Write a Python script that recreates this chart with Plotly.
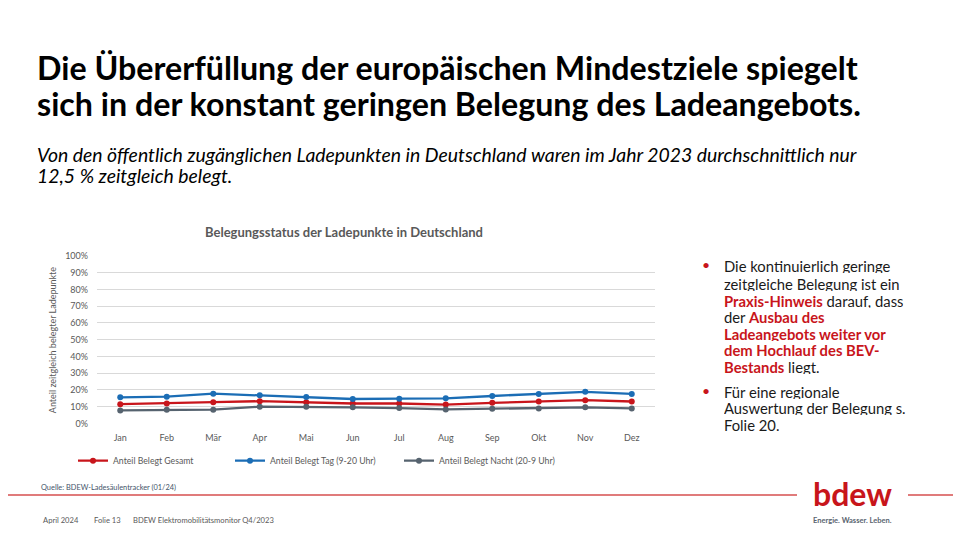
import plotly.graph_objects as go

W, H = 961, 541
OFFX, OFFY = 8, 3  # page offset of the figure
FW, FH = W - OFFX, H - OFFY

months = ["Jan", "Feb", "Mär", "Apr", "Mai", "Jun", "Jul", "Aug", "Sep", "Okt", "Nov", "Dez"]
gesamt = [0.115, 0.119, 0.127, 0.133, 0.127, 0.119, 0.119, 0.113, 0.123, 0.131, 0.139, 0.131]
tag = [0.156, 0.160, 0.178, 0.168, 0.158, 0.146, 0.148, 0.150, 0.164, 0.176, 0.189, 0.176]
nacht = [0.078, 0.082, 0.082, 0.100, 0.100, 0.096, 0.092, 0.084, 0.088, 0.090, 0.096, 0.090]
y_ticks = [0, 0.1, 0.2, 0.3, 0.4, 0.5, 0.6, 0.7, 0.8, 0.9, 1.0]

RED = "#C8151B"
BLUE = "#1B6DB5"
GRAY = "#56636F"
FONT = "Lato"


def px(x):
    return (x - OFFX) / FW


def py(y):
    return 1 - (y - OFFY) / FH


fig = go.Figure()
series = [("Anteil Belegt Gesamt", gesamt, RED, "legend"),
          ("Anteil Belegt Tag (9-20 Uhr)", tag, BLUE, "legend2"),
          ("Anteil Belegt Nacht (20-9 Uhr)", nacht, GRAY, "legend3")]
for name, vals, col, lg in series:
    fig.add_trace(go.Scatter(x=months, y=vals, name=name, mode="lines+markers",
                             line=dict(color=col, width=2.3),
                             marker=dict(color=col, size=6), legend=lg))

legend_common = dict(orientation="h", xanchor="left", yanchor="middle",
                     font=dict(family=FONT, size=8.7, color="#595959"),
                     bgcolor="rgba(0,0,0,0)", itemwidth=30)

fig.update_layout(
    width=FW, height=FH,
    margin=dict(l=0, r=0, t=0, b=0),
    paper_bgcolor="white", plot_bgcolor="white",
    showlegend=True,
    legend=dict(x=px(73), y=py(459), **legend_common),
    legend2=dict(x=px(230), y=py(459), **legend_common),
    legend3=dict(x=px(399), y=py(459), **legend_common),
    xaxis=dict(domain=[px(97), px(655)], type="category", range=[-0.5, 11.5],
               showgrid=False, showline=False, zeroline=False, ticks="",
               tickfont=dict(family=FONT, size=9, color="#595959"),
               ticklabelstandoff=8),
    yaxis=dict(domain=[py(421), py(250)], range=[0, 1.0], tickvals=y_ticks,
               tickformat=".0%", showgrid=True, gridcolor="#D9D9D9", gridwidth=1,
               zeroline=False, showline=False, ticks="",
               tickfont=dict(family=FONT, size=9, color="#595959"),
               ticklabelstandoff=8),
)

ann = []


def text(x, y, s, size, color="#000000", xanchor="left", yanchor="middle", angle=0,
         family=FONT, height=None):
    a = dict(x=px(x), y=py(y), xref="paper", yref="paper", text=s, showarrow=False,
             xanchor=xanchor, yanchor=yanchor, textangle=angle,
             font=dict(family=family, size=size, color=color))
    if height:
        a["height"] = height
    ann.append(a)


# Title & subtitle
text(35, 58, "<b>Die Übererfüllung der europäischen Mindestziele spiegelt</b>", 32.2)
text(35, 94, "<b>sich in der konstant geringen Belegung des Ladeangebots.</b>", 32.2, height=36)
text(35, 146.5, "<i>Von den öffentlich zugänglichen Ladepunkten in Deutschland waren im Jahr 2023 durchschnittlich nur</i>", 19.4)
text(35, 167.5, "<i>12,5 % zeitgleich belegt.</i>", 19.4, height=21)

# Chart title and axis title
text(344, 226, "<b>Belegungsstatus der Ladepunkte in Deutschland</b>", 13, "#595959", xanchor="center")
text(52, 336, "Anteil zeitgleich belegter Ladepunkte", 9, "#595959", xanchor="center", angle=-90)

# Right-hand bullet text
R = RED


def red(s):
    return f"<span style='color:{R}'><b>{s}</b></span>"


lines1 = ["Die kontinuierlich geringe",
          "zeitgleiche Belegung ist ein",
          red("Praxis-Hinweis") + " darauf, dass",
          "der " + red("Ausbau des"),
          red("Ladeangebots weiter vor"),
          red("dem Hochlauf des BEV-"),
          red("Bestands") + " liegt."]
ys1 = [260, 278, 295, 312, 329, 346, 363]
lines2 = ["Für eine regionale", "Auswertung der Belegung s.", "Folie 20."]
ys2 = [388, 405, 422.5]
text(700, 259, "•", 14, RED, height=15)
text(700, 387, "•", 14, RED, height=15)
for s, y in zip(lines1, ys1):
    text(722, y, s, 14.8, "#1a1a1a", height=15)
for s, y in zip(lines2, ys2):
    text(722, y, s, 14.8, "#1a1a1a", height=15)

# Source and footer
text(39, 486, "Quelle: BDEW-Ladesäulentracker (01/24)", 7.4, "#44546A")
text(41, 519.5, "April 2024", 7.6, "#595959")
text(92, 519.5, "Folie 13", 7.6, "#595959")
text(131, 519.5, "BDEW Elektromobilitätsmonitor Q4/2023", 7.6, "#595959")

# Logo
text(852, 492, "<b>bdew</b>", 32, "#C8151B", xanchor="center", family="Lato")
text(852, 520.5, "<b>Energie. Wasser. Leben.</b>", 7.5, "#5A6570", xanchor="center")

fig.update_layout(annotations=ann)

# Separator line
fig.add_shape(type="line", xref="paper", yref="paper", x0=px(0), x1=px(797), y0=py(494), y1=py(494),
              line=dict(color="#E07B7B", width=2))
fig.add_shape(type="line", xref="paper", yref="paper", x0=px(908), x1=1, y0=py(494), y1=py(494),
              line=dict(color="#E07B7B", width=2))

fig.write_html("out.html")
